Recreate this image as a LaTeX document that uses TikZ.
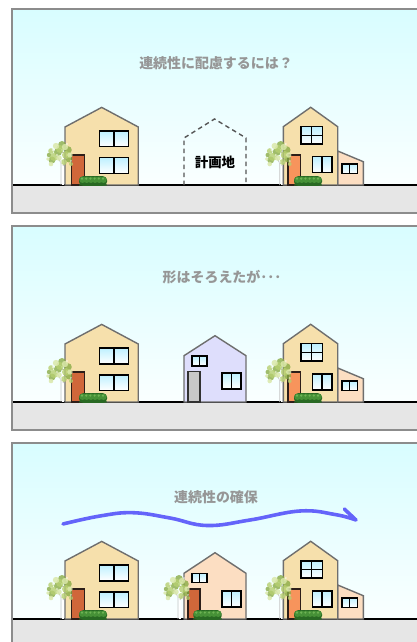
\documentclass[tikz,border=0pt]{standalone}
\usepackage{fontspec}
\newfontfamily\jpfont{Noto Sans CJK JP}
\definecolor{skyTop}{RGB}{216,253,255}
\definecolor{skyBottom}{RGB}{250,255,255}
\definecolor{groundGrey}{RGB}{230,230,230}
\definecolor{frameGrey}{RGB}{140,140,140}
\definecolor{wallLine}{RGB}{110,110,110}
\definecolor{hsWheat}{RGB}{246,224,172}
\definecolor{hsPeach}{RGB}{252,222,194}
\definecolor{hsLavender}{RGB}{222,222,252}
\definecolor{hsRust}{RGB}{208,103,58}
\definecolor{hsOrange}{RGB}{247,148,92}
\definecolor{hsDoorGrey}{RGB}{200,200,200}
\definecolor{doorEdge}{RGB}{45,30,25}
\definecolor{doorEdgeGrey}{RGB}{50,50,50}
\definecolor{plotGrey}{RGB}{85,85,85}
\definecolor{glassTop}{RGB}{190,240,255}
\definecolor{leafLight}{RGB}{218,232,170}
\definecolor{leafMid}{RGB}{182,207,112}
\definecolor{leafDark}{RGB}{138,172,70}
\definecolor{bushDark}{RGB}{40,105,35}
\definecolor{bushMid}{RGB}{70,145,55}
\definecolor{bushLight}{RGB}{110,180,85}
\definecolor{waveBlue}{RGB}{100,100,250}
\definecolor{titleGrey}{RGB}{150,150,150}

% two-pane and four-pane windows: #1,#2 top left, #3,#4 bottom right
\newcommand\paneTwo[4]{%
  \draw[winframe] (#1,#2) rectangle (#3,#4);
  \draw[line width=1.5] ({(#1+#3)/2},#2) -- ({(#1+#3)/2},#4);}
\newcommand\paneFour[4]{%
  \draw[winframe] (#1,#2) rectangle (#3,#4);
  \draw[line width=1.5] ({(#1+#3)/2},#2) -- ({(#1+#3)/2},#4)
                        (#1,{(#2+#4)/2}) -- (#3,{(#2+#4)/2});}
% slim tree, trunk foot at x=#1 on the ground line
\newcommand\leafTree[1]{%
  \draw[line width=2.4, color=gray!50] (#1,185) -- (#1,152);
  \draw[line width=1.2, color=white] (#1,185) -- (#1,153);
  \draw[line width=0.9, color=gray!45] ({#1-2},185) -- ({#1-2},163) -- ({#1-7},154);
  \draw[line width=0.8, color=gray!45] (#1,166) -- ({#1+5},156);
  \fill[leafDark, opacity=.8] ({#1-11},160) circle (3.5) ({#1-5},152) circle (4)
        ({#1+5},150) circle (3.8) ({#1+6},159) circle (3.5) ({#1-1},145) circle (4)
        ({#1-14},155) circle (2.2);
  \fill[leafMid, opacity=.8] ({#1-9},157) circle (4) ({#1-3},149) circle (4)
        ({#1+3},155) circle (4) ({#1+1},162) circle (3) ({#1-12},151) circle (2.8)
        ({#1+8},164) circle (2);
  \fill[leafLight, opacity=.85] ({#1-7},146) circle (3.2) ({#1+2},147) circle (3.2)
        ({#1-12},164) circle (2.3) ({#1+7},155) circle (2.7) ({#1-4},158) circle (2.8)
        ({#1-15},159) circle (1.8);
  \fill[white, opacity=.55] ({#1-10},150) circle (1.4) ({#1+4},144) circle (1.2)
        ({#1-2},162) circle (1.2) ({#1+8},161) circle (1.1) ({#1-6},155) circle (1.1);}
% low hedge between x=#1 and x=#2
\newcommand\hedge[2]{%
  \fill[bushDark, rounded corners=4] (#1,185.8) rectangle (#2,176.2);
  \foreach \k in {0,1,2,3,4,5} {
    \fill[bushMid] ({#1+3.5+\k*(#2-#1-7)/5},179.8) circle (3.2);
    \fill[bushLight] ({#1+3+\k*(#2-#1-7)/5},178.6) circle (1.2);}
  \fill[bushDark, opacity=.6] (#1,185.8) rectangle (#2,183.5);}
% two-storey house on the left
\newcommand\houseWest{%
  \filldraw[wall, fill=hsWheat] (65,185) -- (65,127) -- (101.7,107.4) -- (138.3,127) -- (138.3,185) -- cycle;
  \paneTwo{99.3}{131}{128.3}{146.7}
  \paneTwo{99.3}{157.7}{128.3}{173.3}
  \draw[doorline, fill=hsRust] (71.7,185) rectangle (84.3,155);
  \leafTree{63}
  \hedge{79}{107}}
% two-storey house with the low annex on the right
\newcommand\houseEast{%
  \filldraw[wall, fill=hsPeach] (337.7,185) -- (337.7,151) -- (363.3,161.7) -- (363.3,185) -- cycle;
  \filldraw[wall, fill=hsWheat] (283.3,185) -- (283.3,126.7) -- (310.7,107.3) -- (337.7,126.7) -- (337.7,185) -- cycle;
  \paneFour{301}{126.7}{322.3}{144}
  \paneTwo{312.3}{156.7}{331.7}{172.7}
  \paneTwo{342}{164}{357.3}{173.3}
  \draw[doorline, fill=hsOrange] (288,185) rectangle (300.7,155);
  \leafTree{281.7}
  \hedge{294}{322}}
% sky, ground strip and left/top frame of one panel, ground down to y=#1;
% the panel runs on past the right edge of the page
\newcommand\panelBase[1]{%
  \shade[top color=skyTop, bottom color=skyBottom] (12.3,9) rectangle (420,185);
  \fill[groundGrey] (12.3,185) rectangle (420,#1);
  \draw[black, line width=1.5] (12.3,185) -- (420,185);
  \draw[frame] (420,9) -- (12.3,9) -- (12.3,#1);}

\begin{document}
\begin{tikzpicture}[x=1bp, y=-1bp,
  frame/.style={draw=frameGrey, line width=2},
  wall/.style={draw=wallLine, line width=1.4, line join=miter},
  winframe/.style={draw=black, line width=1.6, top color=glassTop, bottom color=white},
  doorline/.style={draw=doorEdge, line width=1.4},
  plotline/.style={draw=plotGrey, line width=1.4, dash pattern=on 4.5pt off 3.5pt},
  caption/.style={font=\jpfont\bfseries\fontsize{14}{14}\selectfont, text=titleGrey, inner sep=0},
  plotlabel/.style={font=\jpfont\bfseries\fontsize{13.5}{13.5}\selectfont, text=black, inner sep=0},
  wave/.style={draw=waveBlue, line width=3.6, line cap=round, line join=round}]
\fill[white] (0,0) rectangle (416,642);
\useasboundingbox (0,0) rectangle (416,642);

% panel 1: the empty plot between the neighbours
\begin{scope}
  \panelBase{213}
  \draw[frame] (11.3,213) -- (420,213);
  \node[caption] (q1) at (216,63.3) {連続性に配慮するには？};
  \houseWest
  \houseEast
  \draw[plotline] (184,185) -- (184,138) -- (214.5,119) -- (246,138) -- (246,185);
  \node[plotlabel] (site) at (215,162) {計画地};
\end{scope}

% panel 2: same outline, different look
\begin{scope}[shift={(0,217)}]
  \panelBase{213}
  \draw[frame] (11.3,213) -- (420,213);
  \node[caption] (q2) at (222,59.7) {形はそろえたが･･･};
  \houseWest
  \houseEast
  \filldraw[wall, fill=hsLavender] (184,185) -- (184,138.7) -- (215,118.7) -- (246,138.7) -- (246,185) -- cycle;
  \paneTwo{192}{139}{207}{148.7}
  \draw[line width=1.4, draw=doorEdgeGrey, fill=hsDoorGrey] (188,185) rectangle (200,154.7);
  \paneTwo{222}{156}{241}{172}
\end{scope}

% panel 3: the street reads as one row
\begin{scope}[shift={(0,434)}]
  \panelBase{208}
  \node[caption] (q3) at (216,62.7) {連続性の確保};
  \draw[wave] plot[smooth, tension=0.7] coordinates
    {(63,90) (100,82) (133,78.7) (170,84) (207,91.5) (250,86) (300,77) (335,80.5) (356,86)}
    -- (344.3,75);
  \houseWest
  \houseEast
  \filldraw[wall, fill=hsPeach] (184,185) -- (184,139.3) -- (215,118.7) -- (246,139.3) -- (246,185) -- cycle;
  \paneTwo{192}{139.3}{207}{148.3}
  \draw[doorline, fill=hsRust] (188,185) rectangle (200,155);
  \paneTwo{222}{157}{241}{172.7}
  \leafTree{180}
  \hedge{193.3}{221.7}
\end{scope}
\end{tikzpicture}
\end{document}
